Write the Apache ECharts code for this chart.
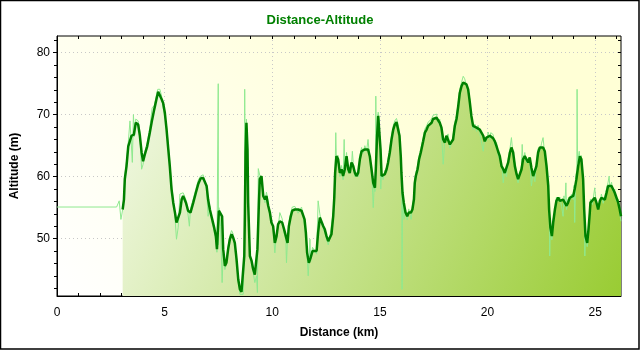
<!DOCTYPE html>
<html>
<head>
<meta charset="utf-8">
<script src="https://cdn.jsdelivr.net/npm/echarts@6/dist/echarts.min.js"></script>
<style>
  html, body { margin: 0; padding: 0; background: #fff; }
  #chart { width: 640px; height: 350px; }
</style>
</head>
<body>
<div id="chart"></div>
<script>
// Altitude profile: smoothed track (km, m)
const profile = [
  [3.05,54.7],[3.11,56.3],[3.15,59.6],[3.23,61.7],[3.31,64.9],[3.39,65.2],[3.46,66.6],[3.57,66.8],[3.66,68.7],[3.77,68.4],
  [3.85,66.6],[3.93,63.9],[4.00,62.5],[4.08,63.6],[4.19,64.9],[4.31,67.1],[4.42,69.2],[4.52,70.9],[4.62,72.5],[4.70,73.7],
  [4.78,73.5],[4.86,72.5],[4.93,71.9],[5.01,70.3],[5.09,67.6],[5.17,64.4],[5.24,61.7],[5.32,58.0],[5.40,55.8],[5.48,54.2],
  [5.55,52.6],[5.63,52.3],[5.71,54.2],[5.79,56.3],[5.86,56.9],[5.99,55.8],[6.09,54.5],[6.20,54.2],[6.33,55.8],[6.45,57.4],
  [6.56,58.8],[6.67,59.7],[6.79,59.8],[6.87,59.6],[6.95,58.5],[7.02,56.3],[7.10,54.7],[7.21,53.1],[7.30,51.8],[7.38,50.4],
  [7.43,48.3],[7.49,48.3],[7.52,54.5],[7.67,53.6],[7.72,48.3],[7.80,45.6],[7.87,46.1],[7.95,48.3],[8.03,49.9],[8.11,50.7],
  [8.18,50.2],[8.26,49.3],[8.34,46.7],[8.42,43.4],[8.50,41.8],[8.57,41.4],[8.65,41.3],[8.70,47.2],[8.73,54.2],[8.76,63.9],
  [8.80,68.7],[8.85,64.4],[8.88,55.8],[8.96,47.2],[9.04,46.4],[9.11,45.1],[9.19,44.2],[9.27,44.5],[9.31,48.3],[9.38,55.8],
  [9.42,59.6],[9.50,60.1],[9.58,56.9],[9.66,56.3],[9.73,56.9],[9.81,55.3],[9.89,54.2],[9.96,52.6],[10.04,52.0],[10.12,49.3],
  [10.20,50.4],[10.27,52.3],[10.35,52.8],[10.46,52.6],[10.55,51.5],[10.63,50.4],[10.71,49.3],[10.77,52.0],[10.86,53.6],[10.93,54.5],
  [11.05,54.7],[11.20,54.7],[11.36,54.5],[11.44,54.2],[11.50,53.1],[11.56,51.0],[11.62,47.7],[11.70,46.1],[11.78,46.9],[11.87,48.0],
  [12.06,48.0],[12.13,51.0],[12.21,53.4],[12.29,53.1],[12.37,52.0],[12.44,51.5],[12.52,50.4],[12.60,49.6],[12.67,49.6],[12.75,50.7],
  [12.83,53.6],[12.88,56.6],[12.92,60.6],[12.98,63.3],[13.06,62.8],[13.14,60.6],[13.22,61.2],[13.29,60.1],[13.37,61.2],[13.45,63.3],
  [13.53,61.2],[13.60,60.6],[13.68,62.3],[13.76,61.7],[13.84,60.6],[13.91,60.1],[13.99,60.6],[14.07,62.8],[14.15,64.1],[14.22,64.4],
  [14.30,64.4],[14.38,64.7],[14.45,64.4],[14.53,63.3],[14.61,61.2],[14.69,59.0],[14.77,58.2],[14.81,61.2],[14.87,66.6],[14.92,69.8],
  [14.97,69.5],[15.03,64.4],[15.08,60.1],[15.15,60.1],[15.23,60.4],[15.31,61.2],[15.38,62.3],[15.46,63.9],[15.54,66.0],[15.62,67.6],
  [15.69,68.4],[15.77,68.8],[15.85,69.0],[15.91,66.6],[15.97,63.3],[16.00,60.6],[16.05,57.4],[16.11,55.8],[16.19,54.2],[16.27,53.6],
  [16.34,54.2],[16.44,54.2],[16.51,54.7],[16.58,56.3],[16.62,59.0],[16.67,60.1],[16.75,61.2],[16.82,62.8],[16.90,63.9],[17.01,65.7],
  [17.09,67.1],[17.17,67.6],[17.24,68.2],[17.32,68.4],[17.40,68.7],[17.47,69.3],[17.55,69.5],[17.63,69.5],[17.71,69.3],[17.78,68.7],
  [17.86,67.9],[17.94,66.0],[18.02,65.5],[18.09,66.6],[18.17,66.3],[18.25,65.2],[18.33,64.9],[18.40,66.0],[18.48,68.2],[18.56,69.3],
  [18.64,71.4],[18.71,73.5],[18.79,74.6],[18.87,75.2],[18.94,75.2],[19.02,74.9],[19.10,74.1],[19.18,71.9],[19.25,69.8],[19.33,68.2],
  [19.41,67.9],[19.49,67.9],[19.56,67.7],[19.64,67.6],[19.72,67.4],[19.80,66.6],[19.87,65.7],[19.95,66.3],[20.03,66.6],[20.11,66.6],
  [20.18,66.4],[20.26,66.2],[20.34,65.7],[20.42,64.9],[20.49,64.1],[20.57,63.3],[20.65,61.7],[20.73,61.2],[20.80,60.6],[20.88,60.6],
  [20.96,62.3],[21.04,63.9],[21.11,64.7],[21.19,63.9],[21.27,61.7],[21.35,60.4],[21.42,59.6],[21.50,59.8],[21.58,61.2],[21.65,62.8],
  [21.73,63.3],[21.81,62.8],[21.89,62.3],[21.96,63.1],[22.04,61.4],[22.12,60.1],[22.20,59.8],[22.27,61.7],[22.35,63.9],[22.43,64.7],
  [22.51,64.8],[22.58,64.7],[22.66,64.1],[22.74,61.7],[22.82,58.5],[22.86,54.7],[22.92,51.8],[22.99,50.4],[23.05,52.6],[23.13,54.7],
  [23.20,56.1],[23.28,56.6],[23.36,56.1],[23.44,55.8],[23.51,56.3],[23.59,55.8],[23.67,55.3],[23.74,55.8],[23.82,56.6],[23.90,56.6],
  [23.98,56.9],[24.05,58.0],[24.13,59.6],[24.21,61.7],[24.29,63.3],[24.36,62.8],[24.44,59.6],[24.49,54.7],[24.55,50.4],[24.63,49.3],
  [24.69,51.5],[24.75,54.2],[24.78,55.8],[24.87,56.1],[24.98,56.6],[25.06,55.8],[25.14,54.7],[25.22,56.1],[25.29,56.6],[25.37,56.3],
  [25.45,56.3],[25.53,57.4],[25.60,58.5],[25.68,58.8],[25.76,58.5],[25.83,58.2],[25.91,57.4],[25.99,56.6],[26.07,55.8],[26.14,54.7],
  [26.20,53.6]
];

// Raw GPS altitude readings (km, m)
const raw = [
  [0,55.1],[2.77,55.1],[2.89,56.1],[2.97,53.1],[3.05,54.7],[3.11,56.8],[3.15,60.2],[3.23,62.5],[3.31,65.5],[3.39,69.0],
  [3.44,66.0],[3.50,62.3],[3.55,70.0],[3.60,66.5],[3.66,69.3],[3.77,69.0],[3.85,67.2],[3.93,61.2],[4.00,62.0],[4.08,64.0],
  [4.19,65.5],[4.31,67.8],[4.42,71.1],[4.52,71.5],[4.62,73.2],[4.68,74.1],[4.78,74.1],[4.86,73.0],[4.93,71.1],[5.01,71.0],
  [5.09,68.2],[5.17,65.0],[5.24,62.3],[5.32,58.6],[5.40,56.4],[5.48,53.5],[5.55,49.9],[5.63,51.8],[5.71,57.2],[5.79,57.0],
  [5.86,57.4],[5.99,56.3],[6.09,53.8],[6.15,52.0],[6.20,54.8],[6.33,56.4],[6.45,58.0],[6.56,59.4],[6.67,60.1],[6.79,60.3],
  [6.87,60.0],[6.95,58.0],[7.02,53.6],[7.10,55.3],[7.21,52.5],[7.30,51.2],[7.38,49.8],[7.43,47.8],[7.48,47.5],[7.49,75.0],
  [7.50,49.0],[7.52,55.0],[7.60,52.0],[7.67,42.9],[7.72,47.5],[7.80,45.0],[7.87,46.6],[7.95,48.8],[8.03,50.5],[8.11,51.3],
  [8.18,50.8],[8.26,48.6],[8.34,46.0],[8.42,43.0],[8.50,41.0],[8.57,41.0],[8.65,41.0],[8.70,47.8],[8.72,74.1],[8.74,60.0],
  [8.76,64.5],[8.80,69.3],[8.85,63.5],[8.88,55.0],[8.96,48.0],[9.04,45.8],[9.11,44.6],[9.19,42.9],[9.27,44.0],[9.31,41.3],
  [9.33,50.0],[9.35,61.3],[9.42,60.2],[9.50,59.5],[9.58,57.5],[9.66,55.8],[9.73,57.5],[9.81,55.9],[9.89,53.7],[9.96,53.2],
  [10.04,51.4],[10.12,47.7],[10.20,51.0],[10.27,51.7],[10.35,54.2],[10.46,53.2],[10.55,50.9],[10.63,49.8],[10.66,46.1],[10.71,50.0],
  [10.77,52.6],[10.86,54.2],[10.93,55.1],[11.05,55.2],[11.20,54.1],[11.36,55.1],[11.44,53.6],[11.50,53.7],[11.56,50.4],[11.62,47.1],
  [11.67,44.0],[11.72,47.0],[11.75,49.9],[11.78,46.3],[11.87,48.6],[12.06,47.5],[12.13,56.1],[12.21,54.0],[12.29,52.5],[12.37,52.6],
  [12.44,50.9],[12.52,51.0],[12.60,49.0],[12.67,50.2],[12.75,50.1],[12.83,54.2],[12.88,57.2],[12.92,61.2],[12.95,67.1],[12.98,62.7],
  [13.06,63.4],[13.14,60.0],[13.22,61.8],[13.29,59.5],[13.34,66.0],[13.37,60.6],[13.45,63.9],[13.53,60.6],[13.60,61.2],[13.68,61.7],
  [13.72,64.1],[13.76,62.3],[13.84,60.0],[13.91,60.7],[13.99,60.0],[14.07,63.4],[14.15,64.7],[14.22,63.8],[14.30,65.0],[14.38,64.1],
  [14.45,66.0],[14.53,62.7],[14.61,61.8],[14.69,55.0],[14.74,58.8],[14.77,57.6],[14.80,61.8],[14.81,73.0],[14.83,65.0],[14.87,67.2],
  [14.92,70.4],[14.97,68.9],[15.04,58.0],[15.08,60.7],[15.15,59.5],[15.23,61.0],[15.31,60.6],[15.38,62.9],[15.46,64.5],[15.54,66.6],
  [15.62,68.2],[15.69,69.0],[15.77,69.4],[15.85,68.4],[15.91,67.2],[15.97,62.7],[16.00,61.2],[16.02,56.0],[16.03,41.8],[16.05,56.8],
  [16.12,53.1],[16.19,54.8],[16.27,53.0],[16.34,54.8],[16.45,53.1],[16.51,55.3],[16.58,56.9],[16.62,59.6],[16.67,60.7],[16.75,61.8],
  [16.82,63.4],[16.90,64.5],[17.01,66.3],[17.09,67.7],[17.17,68.2],[17.24,68.8],[17.32,69.0],[17.40,69.3],[17.47,69.9],[17.55,70.1],
  [17.63,70.1],[17.71,68.7],[17.78,69.3],[17.86,67.3],[17.94,62.0],[18.02,66.1],[18.09,66.0],[18.17,66.9],[18.25,64.6],[18.33,65.5],
  [18.40,66.6],[18.48,68.8],[18.56,69.9],[18.64,72.0],[18.71,74.1],[18.79,75.2],[18.87,76.2],[18.94,75.8],[19.02,75.5],[19.10,73.5],
  [19.18,72.5],[19.25,69.2],[19.33,67.6],[19.41,68.5],[19.49,67.3],[19.56,68.3],[19.64,67.0],[19.72,66.8],[19.80,64.1],[19.87,66.3],
  [19.95,65.7],[20.03,67.2],[20.11,66.0],[20.15,67.1],[20.26,66.8],[20.34,65.1],[20.42,65.5],[20.49,63.5],[20.57,62.7],[20.65,62.3],
  [20.73,59.0],[20.80,61.2],[20.88,60.0],[20.96,62.9],[21.04,64.5],[21.11,66.3],[21.19,63.3],[21.27,62.3],[21.35,59.8],[21.42,59.0],
  [21.50,60.4],[21.58,61.8],[21.61,65.2],[21.65,62.2],[21.73,63.9],[21.81,62.2],[21.89,62.9],[21.96,62.5],[22.04,58.5],[22.12,60.7],
  [22.20,59.2],[22.27,62.3],[22.35,64.5],[22.43,64.1],[22.51,65.4],[22.58,66.3],[22.66,63.5],[22.74,62.3],[22.82,57.9],[22.86,55.3],
  [22.89,47.2],[22.92,52.4],[22.99,49.8],[23.05,53.2],[23.13,54.1],[23.20,56.7],[23.28,56.0],[23.36,56.7],[23.44,55.2],[23.51,53.6],
  [23.55,56.9],[23.59,55.2],[23.64,59.0],[23.67,54.7],[23.74,56.4],[23.82,56.0],[23.90,57.2],[23.98,56.3],[24.02,58.6],[24.05,52.6],
  [24.10,60.2],[24.15,61.0],[24.16,74.1],[24.18,62.3],[24.21,62.3],[24.26,64.1],[24.29,62.7],[24.36,63.4],[24.44,59.0],[24.49,55.3],
  [24.52,47.2],[24.55,51.0],[24.63,48.7],[24.69,52.1],[24.75,53.6],[24.78,56.4],[24.87,55.5],[24.98,58.2],[25.06,55.2],[25.14,55.3],
  [25.22,55.5],[25.29,57.2],[25.37,55.7],[25.45,56.9],[25.53,56.8],[25.60,59.1],[25.65,60.1],[25.68,58.2],[25.76,59.1],[25.83,57.6],
  [25.91,58.0],[25.99,56.0],[26.07,56.4],[26.14,54.1],[26.20,52.8]
];

// Axis ranges and tick positions
const xMin = 0, xMax = 26.2;
const yMin = 40.74, yMax = 82.7;
const xMajorTicks = [0, 5, 10, 15, 20, 25];
const xMinorTicks = [0,1,2,3,4,5,6,7,8,9,10,11,12,13,14,15,16,17,18,19,20,21,22,23,24,25,26];
const yMajorTicks = [50, 60, 70, 80];
const yMinorTicks = [42,44,46,48,50,52,54,56,58,60,62,64,66,68,70,72,74,76,78,80,82];

const FONT = 'Liberation Sans, Arial, sans-serif';
const chart = echarts.init(document.getElementById('chart'), null, { renderer: 'canvas' });

const dotted = { show: true, lineStyle: { color: '#c8c8c8', type: [1, 3], width: 1 } };

chart.setOption({
  animation: false,
  backgroundColor: '#ffffff',
  title: {
    text: 'Distance-Altitude',
    left: 'center',
    top: 9,
    textStyle: { color: '#008000', fontSize: 13, fontWeight: 'bold', fontFamily: FONT }
  },
  graphic: [{
    type: 'rect',
    shape: { x: 0.5, y: 0.5, width: 638.5, height: 348.5 },
    style: { fill: null, stroke: '#000', lineWidth: 1.5 },
    silent: true
  }],
  grid: {
    left: 57, top: 36, width: 564, height: 260,
    show: true,
    borderColor: '#000', borderWidth: 1,
    backgroundColor: new echarts.graphic.LinearGradient(0, 1, 0.6, 0, [
      { offset: 0, color: '#ffffff' },
      { offset: 1, color: '#ffffd6' }
    ])
  },
  xAxis: [
    {
      type: 'value', min: xMin, max: xMax, position: 'bottom',
      name: 'Distance (km)', nameLocation: 'middle', nameGap: 31,
      nameTextStyle: { fontFamily: FONT, fontSize: 12, fontWeight: 'bold', color: '#000' },
      axisLine: { show: true, onZero: false, lineStyle: { color: '#000' } },
      axisTick: { show: true, inside: true, length: 5, customValues: xMajorTicks, lineStyle: { color: '#000' } },
      axisLabel: { show: true, customValues: xMajorTicks, margin: 11, fontFamily: FONT, fontSize: 12, color: '#000' },
      splitLine: dotted
    },
    {
      type: 'value', min: xMin, max: xMax, position: 'bottom',
      axisLine: { show: false, onZero: false },
      axisTick: { show: true, inside: true, length: 3, customValues: xMinorTicks, lineStyle: { color: '#000' } },
      axisLabel: { show: false },
      splitLine: { show: false }
    },
    {
      type: 'value', min: xMin, max: xMax, position: 'top',
      axisLine: { show: false, onZero: false },
      axisTick: { show: true, inside: true, length: 3, customValues: xMinorTicks, lineStyle: { color: '#000' } },
      axisLabel: { show: false },
      splitLine: { show: false }
    }
  ],
  yAxis: [
    {
      type: 'value', min: yMin, max: yMax, position: 'left',
      name: 'Altitude (m)', nameLocation: 'middle', nameRotate: 90, nameGap: 36,
      nameTextStyle: { fontFamily: FONT, fontSize: 12, fontWeight: 'bold', color: '#000' },
      axisLine: { show: true, onZero: false, lineStyle: { color: '#000' } },
      axisTick: { show: true, inside: false, length: 4, customValues: yMajorTicks, lineStyle: { color: '#000' } },
      axisLabel: { show: true, customValues: yMajorTicks, margin: 7, fontFamily: FONT, fontSize: 12, color: '#000' },
      splitLine: dotted
    },
    {
      type: 'value', min: yMin, max: yMax, position: 'left',
      axisLine: { show: false, onZero: false },
      axisTick: { show: true, inside: false, length: 3, customValues: yMinorTicks, lineStyle: { color: '#000' } },
      axisLabel: { show: false },
      splitLine: { show: false }
    },
    {
      type: 'value', min: yMin, max: yMax, position: 'right',
      axisLine: { show: false, onZero: false },
      axisTick: { show: true, inside: true, length: 3, customValues: yMinorTicks, lineStyle: { color: '#000' } },
      axisLabel: { show: false },
      splitLine: { show: false }
    }
  ],
  series: [
    {
      name: 'fill', type: 'line', data: profile, showSymbol: false, silent: true, z: 1,
      lineStyle: { width: 0, opacity: 0 },
      areaStyle: {
        opacity: 1,
        color: new echarts.graphic.LinearGradient(57, 36, 621, 296, [
          { offset: 0, color: '#ffffff' },
          { offset: 1, color: '#99cc33' }
        ], true)
      }
    },
    {
      name: 'raw', type: 'line', data: raw, showSymbol: false, silent: true, z: 2,
      lineStyle: { color: '#8fe98f', width: 1 }
    },
    {
      name: 'smoothed', type: 'line', data: profile, showSymbol: false, silent: true, z: 3,
      lineStyle: { color: '#008000', width: 2.5 }
    }
  ]
});
</script>
</body>
</html>
